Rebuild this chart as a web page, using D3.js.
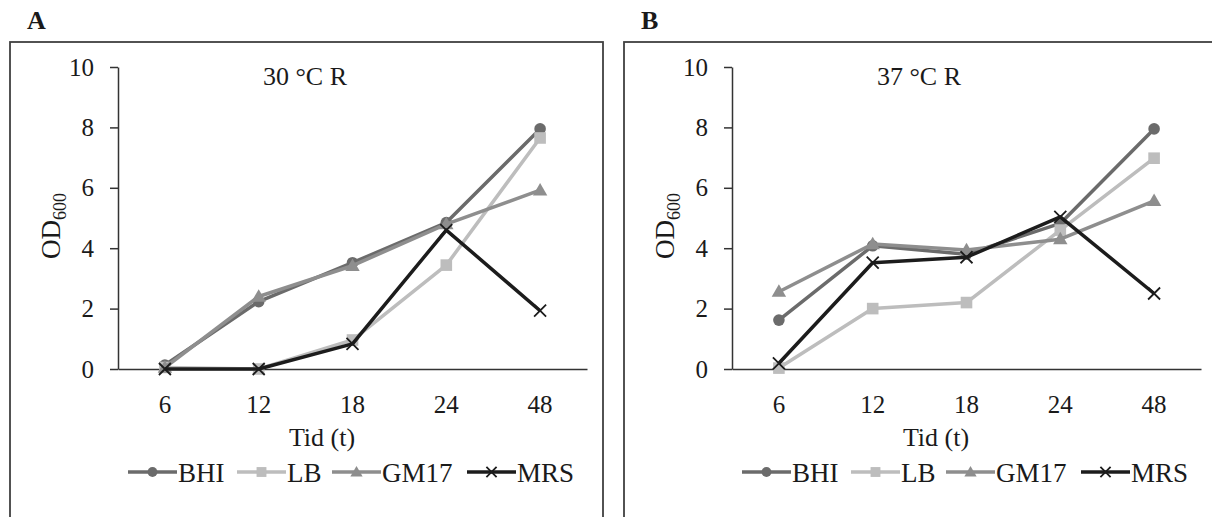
<!DOCTYPE html>
<html>
<head>
<meta charset="utf-8">
<script src="https://cdn.jsdelivr.net/npm/d3@7"></script>
<style>
  body { margin: 0; background: #fff; }
  text { font-family: "Liberation Serif", "Times New Roman", serif; fill: #1a1a1a; }
</style>
</head>
<body>
<div id="chart"></div>
<script>
// categories (hours) and series values
const times = ["6", "12", "18", "24", "48"];
const seriesNames = ["BHI", "LB", "GM17", "MRS"];
const yTicks = [0, 2, 4, 6, 8, 10];

const bhi30 = [0.13, 2.23, 3.52, 4.85, 7.95];
const lb30 = [0.05, 0.0, 0.96, 3.44, 7.65];
const gm30 = [0.05, 2.4, 3.42, 4.8, 5.92];
const mrs30 = [0.0, 0.0, 0.83, 4.6, 1.93];

const bhi37 = [1.62, 4.08, 3.8, 4.82, 7.95];
const lb37 = [0.03, 2.0, 2.2, 4.6, 6.98];
const gm37 = [2.56, 4.14, 3.94, 4.3, 5.57];
const mrs37 = [0.19, 3.52, 3.7, 5.04, 2.5];

const panels = [
  { letter: "A", title: "30 °C R", values: [bhi30, lb30, gm30, mrs30] },
  { letter: "B", title: "37 °C R", values: [bhi37, lb37, gm37, mrs37] }
];

const colors = { BHI: "#6b6b6b", LB: "#bdbdbd", GM17: "#8e8e8e", MRS: "#1c1c1c" };
const shapes = { BHI: "circle", LB: "square", GM17: "triangle", MRS: "x" };

const width = 1212, height = 517;
const svg = d3.select("#chart").append("svg")
  .attr("width", width)
  .attr("height", height);

function marker(g, name, x, y, scale) {
  const c = colors[name];
  const s = scale || 1;
  if (shapes[name] === "circle") {
    g.append("circle").attr("cx", x).attr("cy", y).attr("r", 5.8 * s).attr("fill", c);
  } else if (shapes[name] === "square") {
    g.append("rect").attr("x", x - 5.8 * s).attr("y", y - 5.8 * s)
      .attr("width", 11.6 * s).attr("height", 11.6 * s).attr("fill", c);
  } else if (shapes[name] === "triangle") {
    g.append("path")
      .attr("d", d3.symbol(d3.symbolTriangle, 90 * s * s)())
      .attr("transform", `translate(${x},${y + 1})`)
      .attr("fill", c);
  } else {
    const r = 6 * s;
    g.append("path")
      .attr("d", `M${x - r},${y - r}L${x + r},${y + r}M${x - r},${y + r}L${x + r},${y - r}`)
      .attr("stroke", c).attr("stroke-width", 1.8).attr("fill", "none");
  }
}

panels.forEach((p, i) => {
  const dx = i * 614;
  const g = svg.append("g").attr("transform", `translate(${dx},0)`);

  // frame
  g.append("rect")
    .attr("x", 10).attr("y", 42)
    .attr("width", 593).attr("height", 520)
    .attr("fill", "none").attr("stroke", "#404040").attr("stroke-width", 1.8);

  g.append("text")
    .attr("x", 27).attr("y", 29)
    .attr("font-size", 26).attr("font-weight", "bold")
    .text(p.letter);

  const x = d3.scaleBand().domain(times).range([118, 587]);
  const y = d3.scaleLinear().domain([0, 10]).range([369, 67]);

  const yAxis = g.append("g")
    .attr("transform", "translate(118,0)")
    .call(d3.axisLeft(y).tickValues(yTicks).tickSize(8).tickPadding(16).tickSizeOuter(0));
  yAxis.select(".domain").attr("stroke", "#333").attr("stroke-width", 1.5);
  yAxis.selectAll(".tick line").attr("stroke", "#333").attr("stroke-width", 1.5);
  yAxis.selectAll(".tick text").attr("font-size", 25)
    .attr("font-family", "Liberation Serif").attr("fill", "#1a1a1a");

  const xAxis = g.append("g")
    .attr("transform", "translate(0,369)")
    .call(d3.axisBottom(x).tickSize(0).tickPadding(26));
  xAxis.select(".domain").attr("stroke", "#333").attr("stroke-width", 1.5);
  xAxis.selectAll(".tick text").attr("font-size", 25)
    .attr("font-family", "Liberation Serif").attr("fill", "#1a1a1a");

  g.append("text")
    .attr("x", 305).attr("y", 85)
    .attr("text-anchor", "middle").attr("font-size", 26)
    .text(p.title);

  const yl = g.append("text")
    .attr("transform", "translate(60,226) rotate(-90)")
    .attr("text-anchor", "middle");
  yl.append("tspan").attr("font-size", 27).text("OD");
  yl.append("tspan").attr("font-size", 18).attr("dy", 6).text("600");

  g.append("text")
    .attr("x", 322).attr("y", 446)
    .attr("text-anchor", "middle").attr("font-size", 26)
    .text("Tid (t)");

  const line = d3.line()
    .x((d, j) => x(times[j]) + x.bandwidth() / 2)
    .y(d => y(d));

  seriesNames.forEach((name, k) => {
    const vals = p.values[k];
    const sg = g.append("g");
    sg.append("path")
      .datum(vals)
      .attr("d", line)
      .attr("fill", "none")
      .attr("stroke", colors[name])
      .attr("stroke-width", 3.5)
      .attr("stroke-linejoin", "round");
    vals.forEach((v, j) => marker(sg, name, x(times[j]) + x.bandwidth() / 2, y(v)));
  });

  // legend
  const legendStarts = [128, 237, 332, 467];
  seriesNames.forEach((name, k) => {
    const lx = legendStarts[k];
    const lg = g.append("g");
    lg.append("line")
      .attr("x1", lx).attr("x2", lx + 49)
      .attr("y1", 472).attr("y2", 472)
      .attr("stroke", colors[name]).attr("stroke-width", 3.5);
    marker(lg, name, lx + 24.5, 472, 0.85);
    lg.append("text")
      .attr("x", lx + 50).attr("y", 482)
      .attr("font-size", 27)
      .text(name);
  });
});
</script>
</body>
</html>
